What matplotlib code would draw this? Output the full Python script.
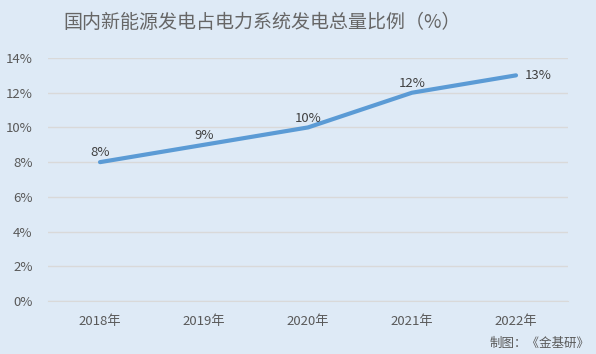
import matplotlib
matplotlib.use("Agg")
import matplotlib.pyplot as plt
from matplotlib.ticker import FuncFormatter

plt.rcParams['font.family'] = ['Noto Sans CJK SC', 'DejaVu Sans']

categories = ['2018年', '2019年', '2020年', '2021年', '2022年']
values = [8, 9, 10, 12, 13]
label_pos = ['above', 'above', 'above', 'above', 'right']
yticks = [0, 2, 4, 6, 8, 10, 12, 14]

bg = '#DEEAF6'
txt = '#595959'

fig = plt.figure(figsize=(5.96, 3.54), dpi=100, facecolor=bg)
ax = fig.add_axes([48/596, 1-301/354, 520/596, (301-58)/354], facecolor=bg)

x = list(range(len(categories)))
ax.plot(x, values, color='#5B9BD5', linewidth=3, solid_capstyle='round')

for xi, v, p in zip(x, values, label_pos):
    if p == 'right':
        ax.annotate(f'{v}%', (xi, v), xytext=(6, 0), textcoords='offset points',
                    ha='left', va='center', fontsize=9.5, color='#404040')
    else:
        ax.annotate(f'{v}%', (xi, v), xytext=(0, 2), textcoords='offset points',
                    ha='center', va='bottom', fontsize=9.5, color='#404040')

ax.set_xlim(-0.5, len(categories) - 0.5)
ax.set_ylim(0, 14)
ax.set_yticks(yticks)
ax.yaxis.set_major_formatter(FuncFormatter(lambda v, p: f'{v:.0f}%'))
ax.set_xticks(x)
ax.set_xticklabels(categories)
ax.grid(axis='y', color='#D9D9D9', linewidth=1)
ax.set_axisbelow(True)
for s in ax.spines.values():
    s.set_visible(False)
ax.spines['bottom'].set_visible(True)
ax.spines['bottom'].set_color('#D9D9D9')
ax.tick_params(length=0, labelsize=9.5, colors=txt)
ax.tick_params(axis='x', pad=10)
ax.tick_params(axis='y', pad=11)

fig.text(262/596, 1-23/354, '国内新能源发电占电力系统发电总量比例（%）', ha='center', va='center',
         fontsize=13.7, color='#666666')
fig.text(590/596, 1-343/354, '制图：《金基研》', ha='right', va='center', fontsize=9, color=txt)

fig.savefig('out.png', dpi=100, facecolor=bg)
